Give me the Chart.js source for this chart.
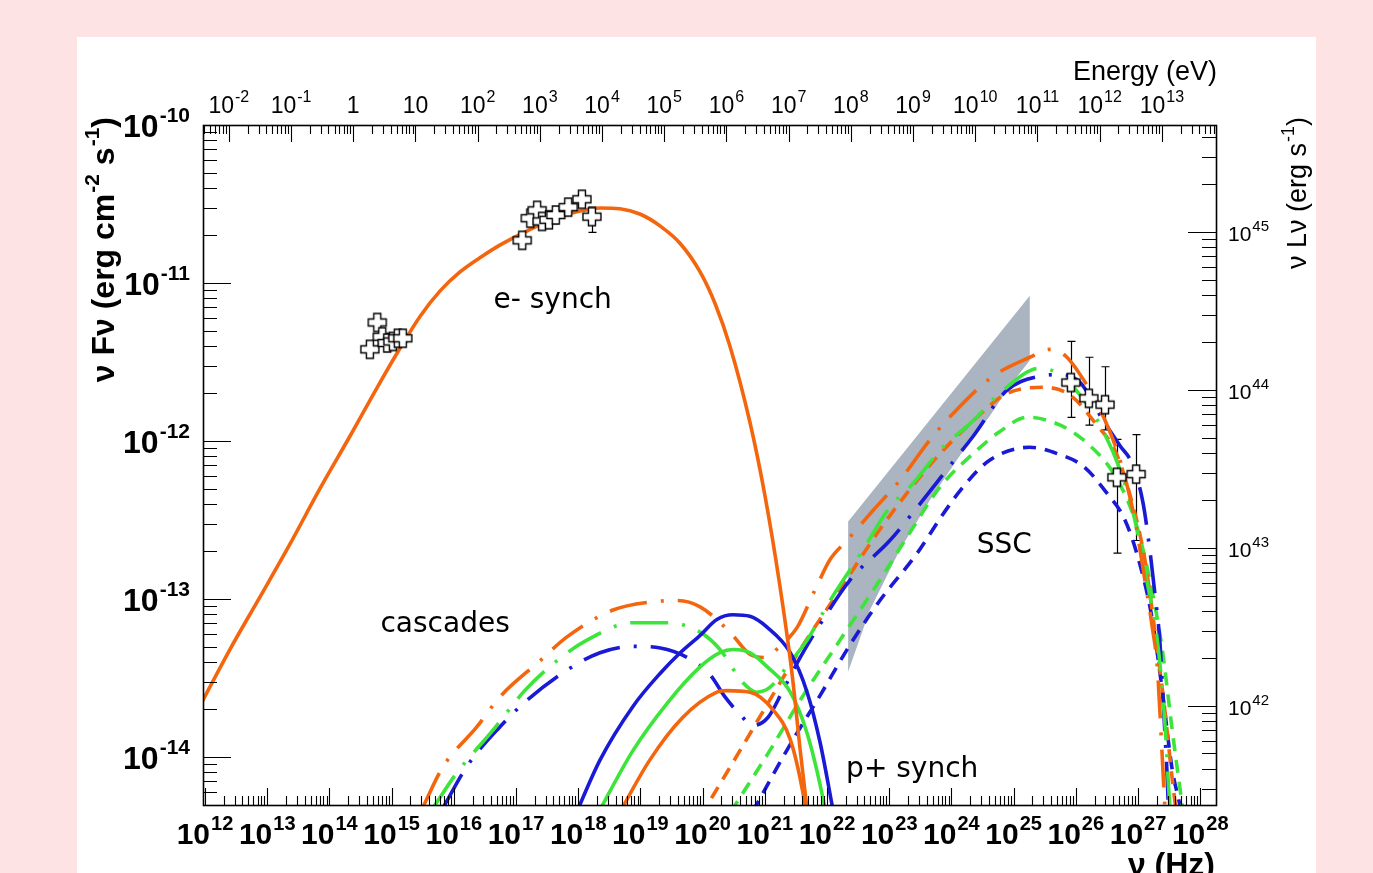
<!DOCTYPE html>
<html>
<head>
<meta charset="utf-8">
<script src="https://cdn.jsdelivr.net/npm/chart.js@4.4.1/dist/chart.umd.min.js"></script>
<style>
  html, body { margin: 0; padding: 0; background: #fde3e3; overflow: hidden; width: 1373px; height: 873px; }
  #panel { position: absolute; left: 77px; top: 37px; width: 1239px; height: 846px; background: #fff; }
  canvas { display: block; }
</style>
</head>
<body>
<div id="panel"><canvas id="sed" width="1239" height="846"></canvas></div>
<script>
// all values are log10: frequency in Hz, nuFnu in erg cm-2 s-1

// electron synchrotron (orange solid)
const eSynNu = [11.90, 12.40, 12.88, 13.37, 13.85, 14.33, 14.77, 15.14, 15.46, 15.78, 16.10, 16.42, 16.74, 17.23, 17.71, 18.03, 18.35, 18.67, 19.00, 19.32, 19.64, 19.96, 20.20, 20.44, 20.76, 21.00, 21.24, 21.44, 21.57, 21.70];
const eSynF = [-13.69, -13.32, -12.99, -12.65, -12.30, -11.97, -11.66, -11.41, -11.21, -11.05, -10.93, -10.84, -10.76, -10.66, -10.58, -10.545, -10.525, -10.53, -10.565, -10.64, -10.75, -10.93, -11.13, -11.40, -11.88, -12.34, -12.91, -13.48, -13.96, -14.40];

// proton synchrotron, three models
const pBlueNu = [17.92, 18.35, 18.88, 19.32, 19.64, 19.96, 20.23, 20.49, 20.76, 21.04, 21.41, 21.68, 21.89, 22.08, 22.15];
const pBlueF = [-14.40, -14.02, -13.68, -13.47, -13.34, -13.23, -13.13, -13.10, -13.11, -13.18, -13.34, -13.59, -13.91, -14.30, -14.45];
const pGreenNu = [18.26, 18.88, 19.43, 19.96, 20.28, 20.49, 20.76, 21.04, 21.41, 21.68, 21.94, 22.00];
const pGreenF = [-14.40, -13.96, -13.66, -13.43, -13.34, -13.32, -13.34, -13.43, -13.59, -13.85, -14.27, -14.40];
const pOrangeNu = [18.60, 19.15, 19.68, 20.23, 20.39, 20.76, 21.13, 21.41, 21.61, 21.70];
const pOrangeF = [-14.40, -14.02, -13.75, -13.59, -13.58, -13.59, -13.70, -13.89, -14.22, -14.45];

// cascades + SSC (dash-dot)
const ddOrangeNu = [15.50, 15.83, 16.37, 16.74, 17.39, 17.82, 18.56, 19.15, 19.59, 19.96, 20.44, 20.76, 21.00, 21.24, 21.52, 21.81, 22.05, 22.32, 22.74, 23.17, 23.66, 24.09, 24.67, 25.26, 25.59, 25.83, 26.07, 26.39, 26.71, 26.95, 27.11, 27.23, 27.31, 27.39, 27.43, 27.47];
const ddOrangeF = [-14.32, -14.06, -13.81, -13.62, -13.39, -13.24, -13.07, -13.02, -13.01, -13.05, -13.21, -13.35, -13.37, -13.30, -13.18, -12.94, -12.75, -12.63, -12.44, -12.25, -11.99, -11.80, -11.59, -11.47, -11.42, -11.46, -11.58, -11.80, -12.12, -12.50, -12.88, -13.18, -13.43, -14.00, -14.30, -14.46];
const ddGreenNu = [15.67, 16.05, 16.63, 17.14, 17.66, 18.14, 18.88, 19.43, 19.96, 20.28, 20.65, 20.87, 21.08, 21.41, 21.68, 22.05, 22.53, 23.01, 23.38, 23.86, 24.30, 24.83, 25.42, 25.75, 26.07, 26.39, 26.71, 26.95, 27.14, 27.31, 27.43, 27.51, 27.55];
const ddGreenF = [-14.32, -14.10, -13.83, -13.58, -13.39, -13.26, -13.15, -13.15, -13.21, -13.32, -13.53, -13.59, -13.56, -13.40, -13.26, -13.01, -12.72, -12.42, -12.27, -12.04, -11.89, -11.68, -11.54, -11.58, -11.71, -11.90, -12.18, -12.50, -12.88, -13.26, -13.77, -14.30, -14.46];
const ddBlueNu = [15.83, 16.21, 16.74, 17.18, 17.82, 18.35, 18.88, 19.32, 19.75, 20.12, 20.36, 20.60, 20.81, 21.05, 21.29, 21.57, 21.89, 22.37, 23.01, 23.45, 23.93, 24.35, 24.89, 25.42, 25.75, 26.07, 26.44, 26.71, 26.90, 27.08, 27.19, 27.27, 27.35, 27.39, 27.43, 27.47, 27.50];
const ddBlueF = [-14.32, -14.06, -13.81, -13.64, -13.45, -13.34, -13.30, -13.31, -13.37, -13.48, -13.62, -13.73, -13.80, -13.75, -13.58, -13.37, -13.16, -12.88, -12.63, -12.42, -12.18, -11.97, -11.68, -11.59, -11.58, -11.63, -11.87, -12.03, -12.14, -12.39, -12.69, -12.96, -13.26, -13.53, -13.83, -14.13, -14.46];

// SSC (dashed)
const sscOrangeNu = [19.96, 20.60, 21.08, 21.57, 22.21, 22.85, 23.66, 24.41, 24.89, 25.47, 25.91, 26.34, 26.63, 26.87, 27.11, 27.27, 27.43, 27.59, 27.67];
const sscOrangeF = [-14.38, -13.96, -13.64, -13.32, -12.94, -12.56, -12.15, -11.85, -11.70, -11.66, -11.71, -11.90, -12.06, -12.34, -12.75, -13.20, -13.70, -14.27, -14.46];
const sscGreenNu = [20.45, 21.08, 21.57, 22.21, 22.85, 23.30, 23.82, 24.35, 24.78, 25.22, 25.75, 26.23, 26.63, 26.95, 27.19, 27.39, 27.55, 27.71, 27.77];
const sscGreenF = [-14.35, -13.96, -13.64, -13.26, -12.88, -12.60, -12.29, -12.08, -11.94, -11.85, -11.90, -12.03, -12.22, -12.50, -12.88, -13.32, -13.83, -14.30, -14.46];
const sscBlueNu = [20.80, 21.41, 21.89, 22.37, 22.85, 23.45, 23.87, 24.19, 24.62, 25.26, 25.70, 26.12, 26.50, 26.79, 27.03, 27.23, 27.39, 27.55, 27.67, 27.74];
const sscBlueF = [-14.35, -13.92, -13.61, -13.29, -13.01, -12.71, -12.46, -12.29, -12.12, -12.04, -12.08, -12.16, -12.33, -12.50, -12.78, -13.13, -13.58, -14.08, -14.30, -14.46];

// Fermi butterfly outline
const bowNu = [22.34, 25.26, 25.26, 24.94, 24.62, 24.14, 23.66, 23.17, 22.69, 22.34, 22.34];
const bowF = [-12.51, -11.08, -11.49, -11.65, -11.84, -12.09, -12.37, -12.69, -13.07, -13.46, -12.51];

// observations
const optNu = [14.65, 14.77, 14.85, 14.93, 15.02, 15.10, 15.18];
const optF = [-11.42, -11.25, -11.34, -11.38, -11.37, -11.35, -11.35];
const xrayNu = [17.10, 17.23, 17.34, 17.42, 17.53, 17.64, 17.84, 18.06, 18.22];
const xrayF = [-10.73, -10.59, -10.54, -10.61, -10.60, -10.57, -10.52, -10.47, -10.58];
const tevNu = [25.92, 26.21, 26.47, 26.66, 26.97];
const tevF = [-11.63, -11.73, -11.77, -12.23, -12.21];
// vertical error bars
const errNu = [18.22, 25.92, 26.21, 26.47, 26.66, 26.97];
const errLo = [-10.68, -11.85, -11.90, -11.93, -12.71, -12.63];
const errHi = [-10.52, -11.37, -11.47, -11.53, -11.99, -11.96];

// labels inside the frame
const noteText = ['e- synch', 'cascades', 'SSC', 'p+ synch'];
const noteNu = [17.59, 15.86, 24.85, 23.37];
const noteF = [-11.11, -13.16, -12.66, -14.08];

// axis ranges
const xLogMin = 11.968, xLogMax = 28.254;
const yLogMin = -14.304, yLogMax = -10;
const lumOffset = 55.677;   // log10(4 pi d^2)
const eVOffset = 14.3836;   // log10(Hz per eV)

const ORANGE = '#f4660e', GREEN = '#3de43a', BLUE = '#1a1ad6';
const DASHDOT = [38, 14, 3, 14];
const DASHED = [13, 9];
const FONT = '"Liberation Sans", Arial, sans-serif';

const pts = (lx, ly) => lx.map((v, i) => ({x: 10 ** v, y: 10 ** ly[i]}));
const decades = (lo, hi) => { const out = []; for (let d = Math.ceil(lo); d <= Math.floor(hi); d++) out.push({value: 10 ** d}); return out; };

function curve(label, lx, ly, color, dash) {
  return {
    label, data: pts(lx, ly), borderColor: color, borderWidth: 3.6, borderDash: dash,
    pointRadius: 0, showLine: true, fill: false, cubicInterpolationMode: 'monotone', order: 1
  };
}

function openCross(size, arm) {
  const c = document.createElement('canvas');
  c.width = c.height = size + 4;
  const g = c.getContext('2d');
  const m = (size + 4) / 2, h = size / 2, a = arm / 2;
  g.beginPath();
  g.moveTo(m - a, m - h); g.lineTo(m + a, m - h); g.lineTo(m + a, m - a); g.lineTo(m + h, m - a);
  g.lineTo(m + h, m + a); g.lineTo(m + a, m + a); g.lineTo(m + a, m + h); g.lineTo(m - a, m + h);
  g.lineTo(m - a, m + a); g.lineTo(m - h, m + a); g.lineTo(m - h, m - a); g.lineTo(m - a, m - a);
  g.closePath();
  g.fillStyle = '#fff'; g.fill();
  g.lineWidth = 1.4; g.strokeStyle = '#000'; g.stroke();
  return c;
}
const crossImg = openCross(18, 7);

function obs(label, lx, ly) {
  return {label, data: pts(lx, ly), showLine: false, pointStyle: crossImg, pointRadius: 9, order: 0};
}

// text with superscripts: parts = [[text, isSup], ...]
function richWidth(ctx, parts, size, supSize, weight) {
  let w = 0;
  parts.forEach(([t, s]) => {
    ctx.font = `${weight} ${s ? supSize : size}px ${FONT}`;
    w += ctx.measureText(t).width + (s ? 1 : 0);
  });
  return w;
}
function richText(ctx, parts, x, y, size, supSize, weight, align) {
  const w = richWidth(ctx, parts, size, supSize, weight);
  let cx = align === 'center' ? x - w / 2 : align === 'right' ? x - w : x;
  ctx.textAlign = 'left';
  ctx.textBaseline = 'alphabetic';
  parts.forEach(([t, s]) => {
    ctx.font = `${weight} ${s ? supSize : size}px ${FONT}`;
    if (s) cx += 1;
    ctx.fillText(t, cx, s ? y - size * 0.46 : y);
    cx += ctx.measureText(t).width;
  });
}
const powParts = e => e === 0 ? [['1', false]] : e === 1 ? [['10', false]] : [['10', false], [String(e), true]];
const expOf = v => Math.round(Math.log10(v));

// ROOT-like frame with inward ticks, labels, error bars, notes
const rootFrame = {
  id: 'rootFrame',
  beforeDatasetsDraw(chart) {
    const {ctx, scales} = chart;
    ctx.save();
    ctx.strokeStyle = '#000';
    ctx.lineWidth = 1.2;
    ctx.beginPath();
    errNu.forEach((v, i) => {
      const px = Math.round(scales.x.getPixelForValue(10 ** v)) + 0.5;
      const lo = scales.y.getPixelForValue(10 ** errLo[i]);
      const hi = scales.y.getPixelForValue(10 ** errHi[i]);
      ctx.moveTo(px, lo); ctx.lineTo(px, hi);
      ctx.moveTo(px - 4, lo); ctx.lineTo(px + 4, lo);
      ctx.moveTo(px - 4, hi); ctx.lineTo(px + 4, hi);
    });
    ctx.stroke();
    ctx.restore();
  },
  afterDatasetsDraw(chart) {
    const {ctx, chartArea: a, scales} = chart;
    const logTicks = (lo, hi) => {
      const out = [];
      for (let d = Math.floor(lo); d <= Math.ceil(hi); d++) {
        for (let m = 1; m < 10; m++) {
          const l = Math.log10(m * 10 ** d);
          if (l >= lo - 1e-9 && l <= hi + 1e-9) out.push([m * 10 ** d, m === 1]);
        }
      }
      return out;
    };
    ctx.save();
    ctx.strokeStyle = '#000';
    ctx.lineWidth = 1.6;
    ctx.strokeRect(a.left + 0.5, a.top + 0.5, a.right - a.left, a.bottom - a.top);
    ctx.lineWidth = 1.1;
    ctx.beginPath();
    logTicks(xLogMin, xLogMax).forEach(([v, major]) => {
      const px = Math.round(scales.x.getPixelForValue(v)) + 0.5;
      ctx.moveTo(px, a.bottom); ctx.lineTo(px, a.bottom - (major ? 17 : 9));
    });
    logTicks(xLogMin - eVOffset, xLogMax - eVOffset).forEach(([v, major]) => {
      const px = Math.round(scales.xTop.getPixelForValue(v)) + 0.5;
      ctx.moveTo(px, a.top); ctx.lineTo(px, a.top + (major ? 17 : 9));
    });
    logTicks(yLogMin, yLogMax).forEach(([v, major]) => {
      const py = Math.round(scales.y.getPixelForValue(v)) + 0.5;
      ctx.moveTo(a.left, py); ctx.lineTo(a.left + (major ? 28 : 14), py);
    });
    logTicks(yLogMin + lumOffset, yLogMax + lumOffset).forEach(([v, major]) => {
      const py = Math.round(scales.yRight.getPixelForValue(v)) + 0.5;
      ctx.moveTo(a.right, py); ctx.lineTo(a.right - (major ? 28 : 14), py);
    });
    ctx.stroke();

    ctx.fillStyle = '#000';
    // tick labels, taken from the scales' own ticks
    scales.x.ticks.forEach(t => {
      richText(ctx, powParts(expOf(t.value)), scales.x.getPixelForValue(t.value), a.bottom + 39, 30, 20, 'bold', 'center');
    });
    scales.xTop.ticks.forEach(t => {
      richText(ctx, powParts(expOf(t.value)), scales.xTop.getPixelForValue(t.value), a.top - 12, 23, 16, 'normal', 'center');
    });
    scales.y.ticks.forEach(t => {
      richText(ctx, powParts(expOf(t.value)), a.left - 13, scales.y.getPixelForValue(t.value) + 12, 32, 21, 'bold', 'right');
    });
    scales.yRight.ticks.forEach(t => {
      richText(ctx, powParts(expOf(t.value)), a.right + 12, scales.yRight.getPixelForValue(t.value) + 9, 21, 15, 'normal', 'left');
    });

    // axis titles
    richText(ctx, [['Energy (eV)', false]], a.right + 1, 43, 27, 18, 'normal', 'right');
    richText(ctx, [['ν (Hz)', false]], a.right - 1, a.bottom + 70, 32, 20, 'bold', 'right');

    ctx.save();
    ctx.translate(a.left - 101, a.top - 8);
    ctx.rotate(-Math.PI / 2);
    richText(ctx, [['ν Fν (erg cm', false], ['-2', true], [' s', false], ['-1', true], [')', false]], 0, 12, 32, 21, 'bold', 'right');
    ctx.restore();

    ctx.save();
    ctx.translate(a.right + 80, a.top - 8);
    ctx.rotate(-Math.PI / 2);
    richText(ctx, [['ν Lν (erg s', false], ['-1', true], [')', false]], 0, 10, 27, 18, 'normal', 'right');
    ctx.restore();

    // component names
    ctx.font = '28px "DejaVu Sans"';
    ctx.textAlign = 'center';
    ctx.textBaseline = 'middle';
    noteText.forEach((t, i) => {
      ctx.fillText(t, scales.x.getPixelForValue(10 ** noteNu[i]), scales.y.getPixelForValue(10 ** noteF[i]));
    });
    ctx.restore();
  }
};

const noGrid = {display: false, drawTicks: false};
const noBorder = {display: false};
const axisBase = {type: 'logarithmic', grid: noGrid, border: noBorder, ticks: {display: false, autoSkip: false}};

new Chart(document.getElementById('sed'), {
  type: 'scatter',
  data: {
    datasets: [
      obs('optical', optNu, optF),
      obs('X-ray', xrayNu, xrayF),
      obs('TeV', tevNu, tevF),
      curve('e- synch', eSynNu, eSynF, ORANGE, []),
      curve('p+ synch 1', pBlueNu, pBlueF, BLUE, []),
      curve('p+ synch 2', pGreenNu, pGreenF, GREEN, []),
      curve('p+ synch 3', pOrangeNu, pOrangeF, ORANGE, []),
      curve('cascades 1', ddOrangeNu, ddOrangeF, ORANGE, DASHDOT),
      curve('cascades 2', ddGreenNu, ddGreenF, GREEN, DASHDOT),
      curve('cascades 3', ddBlueNu, ddBlueF, BLUE, DASHDOT),
      curve('SSC 1', sscOrangeNu, sscOrangeF, ORANGE, DASHED),
      curve('SSC 2', sscGreenNu, sscGreenF, GREEN, DASHED),
      curve('SSC 3', sscBlueNu, sscBlueF, BLUE, DASHED),
      {
        label: 'Fermi', data: pts(bowNu, bowF), showLine: true, tension: 0, pointRadius: 0,
        borderWidth: 0, backgroundColor: 'rgb(170,181,193)', fill: 'shape', order: 2
      }
    ]
  },
  options: {
    responsive: false,
    animation: false,
    devicePixelRatio: 1,
    events: [],
    layout: {padding: 0},
    plugins: {legend: {display: false}, tooltip: {enabled: false}},
    scales: {
      x: {
        ...axisBase, position: 'bottom',
        min: 10 ** xLogMin, max: 10 ** xLogMax,
        afterBuildTicks: s => { s.ticks = decades(xLogMin, xLogMax); },
        afterFit: s => { s.height = 78; }
      },
      xTop: {
        ...axisBase, position: 'top',
        min: 10 ** (xLogMin - eVOffset), max: 10 ** (xLogMax - eVOffset),
        afterBuildTicks: s => { s.ticks = decades(xLogMin - eVOffset, xLogMax - eVOffset); },
        afterFit: s => { s.height = 88; }
      },
      y: {
        ...axisBase, position: 'left',
        min: 10 ** yLogMin, max: 10 ** yLogMax,
        afterBuildTicks: s => { s.ticks = decades(yLogMin, yLogMax); },
        afterFit: s => { s.width = 126; }
      },
      yRight: {
        ...axisBase, position: 'right',
        min: 10 ** (yLogMin + lumOffset), max: 10 ** (yLogMax + lumOffset),
        afterBuildTicks: s => { s.ticks = decades(yLogMin + lumOffset, yLogMax + lumOffset); },
        afterFit: s => { s.width = 100; }
      }
    }
  },
  plugins: [rootFrame]
});
</script>
</body>
</html>
